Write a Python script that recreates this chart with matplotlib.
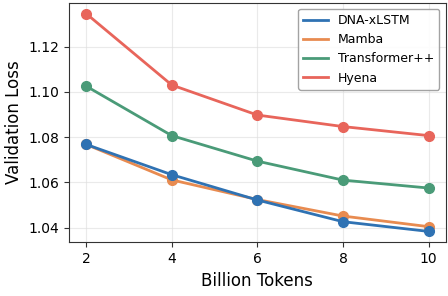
import matplotlib
matplotlib.use("Agg")
import matplotlib.pyplot as plt
from matplotlib.lines import Line2D

tokens = [2, 4, 6, 8, 10]
dna_xlstm = [1.0768, 1.0634, 1.0522, 1.0426, 1.0383]
mamba = [1.0768, 1.0611, 1.0524, 1.0451, 1.0404]
transformer = [1.1026, 1.0807, 1.0694, 1.0610, 1.0575]
hyena = [1.1347, 1.1031, 1.0898, 1.0847, 1.0807]

series = [
    ("DNA-xLSTM", dna_xlstm, "#2f72b3", 5),
    ("Mamba", mamba, "#e88b50", 4),
    ("Transformer++", transformer, "#4a9b78", 3),
    ("Hyena", hyena, "#e8655b", 2),
]

fig = plt.figure(figsize=(4.48, 2.96), dpi=100)
ax = fig.add_axes([69/448, 1 - 242.3/296, (445.7 - 69)/448, (242.3 - 2.7)/296])

handles = []
for name, vals, color, z in series:
    ax.plot(tokens, vals, color=color, lw=2.0, marker="o", ms=7, zorder=z)
    handles.append(Line2D([], [], color=color, lw=2.0, label=name))

ax.set_xticks(tokens)
ax.set_yticks([1.04, 1.06, 1.08, 1.10, 1.12])
ax.set_yticklabels(["1.04", "1.06", "1.08", "1.10", "1.12"])
ax.tick_params(labelsize=10, color="#333333")
ax.set_xlabel("Billion Tokens", fontsize=12)
ax.set_ylabel("Validation Loss", fontsize=12)
ax.grid(True, color="#dddddd", alpha=0.6, lw=0.8)
for s in ax.spines.values():
    s.set_color("#333333")
ax.legend(handles=handles, loc="upper right", fontsize=9, edgecolor="#999999",
          fancybox=True, framealpha=0.9)

fig.savefig("out.png", dpi=100)
